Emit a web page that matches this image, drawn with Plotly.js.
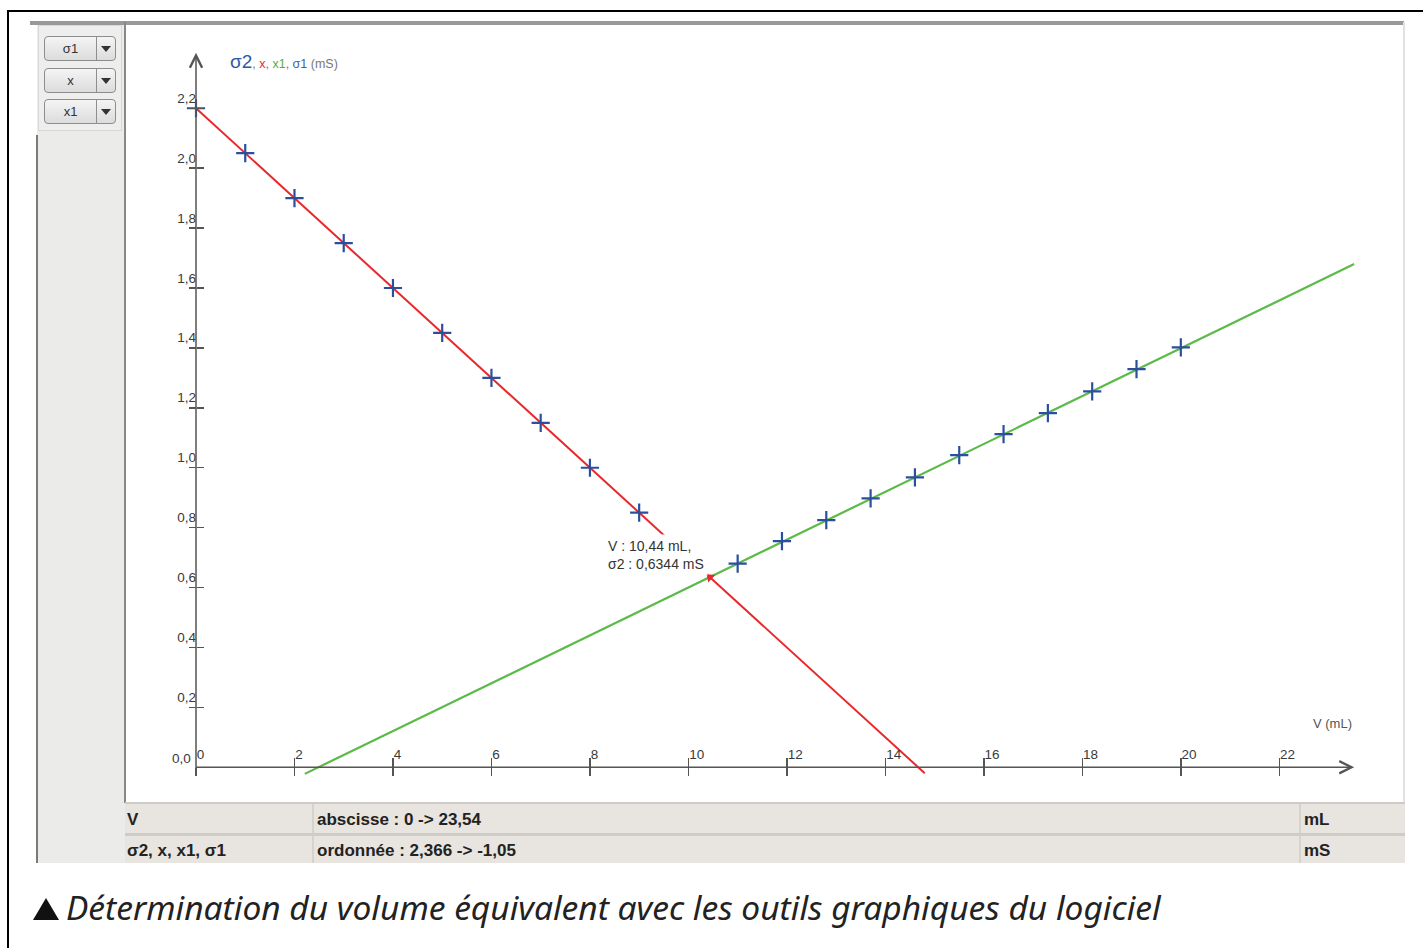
<!DOCTYPE html>
<html>
<head>
<meta charset="utf-8">
<script src="https://cdn.plot.ly/plotly-3.0.1.min.js"></script>
<style>
  html, body { margin:0; padding:0; background:#fff; }
  body { width:1423px; height:948px; position:relative; overflow:hidden; font-family:"Liberation Sans", Arial, sans-serif; }
  .abs { position:absolute; }
  .btn { position:absolute; left:44px; width:72px; height:25px; border:1px solid #8e8e8e; border-radius:4px;
         background:linear-gradient(#f4f4f4,#dcdcdc); box-sizing:border-box; }
  .btn .lab { position:absolute; left:0; top:0; width:51px; height:23px; line-height:23px; text-align:center;
              font-size:13px; color:#333; border-right:1px solid #8e8e8e; }
  .btn .dd { position:absolute; left:56px; top:9px; width:0; height:0; border-left:5px solid transparent;
             border-right:5px solid transparent; border-top:6px solid #333; }
  .row { position:absolute; left:125px; width:1280px; background:#e8e4e0; font-weight:bold; font-size:17px; color:#222; }
  .row div { position:absolute; top:0; }
  .row .c2, .row .c3 { border-left:2px solid #d6d2ce; padding-left:3px; }
</style>
</head>
<body>
<!-- outer frame -->
<div class="abs" style="left:7px;top:10px;width:1416px;height:2px;background:#000"></div>
<div class="abs" style="left:7px;top:10px;width:2px;height:938px;background:#000"></div>

<!-- software window chrome -->
<div class="abs" style="left:37px;top:22px;width:89px;height:841px;background:#ebebea;"></div>
<div class="abs" style="left:36px;top:135px;width:2px;height:728px;background:#7a7a7a;"></div>
<div class="abs" style="left:38px;top:25px;width:84px;height:106px;border:1px solid #d8d8d8;background:#eeeeed;box-sizing:border-box;"></div>
<div class="abs" style="left:30px;top:21px;width:1374px;height:4px;background:#999;"></div>
<div class="abs" style="left:124px;top:22px;width:2px;height:781px;background:#888;"></div>
<div class="abs" style="left:1403px;top:22px;width:2px;height:781px;background:#e2e2e2;"></div>

<div class="btn" style="top:36px"><div class="lab">σ1</div><div class="dd"></div></div>
<div class="btn" style="top:68px"><div class="lab">x</div><div class="dd"></div></div>
<div class="btn" style="top:99px"><div class="lab">x1</div><div class="dd"></div></div>

<div id="plot" class="abs" style="left:126px;top:25px;width:1277px;height:777px;"></div>

<!-- bottom table -->
<div class="abs" style="left:125px;top:802px;width:1280px;height:61px;background:#cfcbc7;"></div>
<div class="row" style="top:804px;height:29px;line-height:31px;">
  <div style="left:2px">V</div>
  <div class="c2" style="left:187px;width:980px;height:29px;">abscisse : 0 -&gt; 23,54</div>
  <div class="c3" style="left:1174px;width:100px;height:29px;">mL</div>
</div>
<div class="row" style="top:836px;height:27px;line-height:29px;">
  <div style="left:2px">σ2, x, x1, σ1</div>
  <div class="c2" style="left:187px;width:980px;height:27px;">ordonnée : 2,366 -&gt; -1,05</div>
  <div class="c3" style="left:1174px;width:100px;height:27px;">mS</div>
</div>

<!-- caption -->
<div class="abs" style="left:33px;top:898px;width:0;height:0;border-left:13px solid transparent;border-right:13px solid transparent;border-bottom:22px solid #111;"></div>
<div class="abs" style="left:66px;top:884px;font-family:'Noto Sans','Open Sans',sans-serif;font-size:33.5px;color:#222;white-space:nowrap;font-style:italic;">Détermination du volume équivalent avec les outils graphiques du logiciel</div>

<script>
// ---- data ----
const sigma2V = [0, 1, 2, 3, 4, 5, 6, 7, 8, 9];
const sigma2  = [2.20, 2.05, 1.90, 1.75, 1.60, 1.45, 1.30, 1.15, 1.00, 0.85];
const sigma1V = [11.0, 11.9, 12.8, 13.7, 14.6, 15.5, 16.4, 17.3, 18.2, 19.1, 20.0];
const sigma1  = [0.680, 0.755, 0.825, 0.898, 0.968, 1.042, 1.112, 1.182, 1.255, 1.329, 1.402];
// modelled lines (end points)
const modelXV  = [0, 14.8];
const modelX   = [2.20, -0.02];
const modelX1V = [2.21, 23.52];
const modelX1  = [-0.022, 1.68];
// intersection read by the software
const eqV = 10.44;
const eqS = 0.6344;
// axes
const xTicks = [0, 2, 4, 6, 8, 10, 12, 14, 16, 18, 20, 22];
const yTicks = [0, 0.2, 0.4, 0.6, 0.8, 1.0, 1.2, 1.4, 1.6, 1.8, 2.0, 2.2];
const xRange = [-1.4216, 24.512];
const yRange = [-0.1159, 2.478];
const xAxisEnd = 23.52;
const yAxisTop = 2.385;
const yAxisBottom = -0.027;

const RED = '#e8282b', GREEN = '#5cba48', BLUE = '#2b4f9e', AX = '#555';
const FONT = 'Liberation Sans, Arial, sans-serif';
const tickFont = {family:FONT, size:13.5, color:'#3a3a3a'};

const traces = [
  {x: modelXV, y: modelX, mode:'lines', line:{color:RED, width:2}, hoverinfo:'skip'},
  {x: modelX1V, y: modelX1, mode:'lines', line:{color:GREEN, width:2.2}, hoverinfo:'skip'},
  {x: sigma2V, y: sigma2, mode:'markers', marker:{symbol:'cross-thin', size:13, line:{color:BLUE, width:2.2}}},
  {x: sigma1V, y: sigma1, mode:'markers', marker:{symbol:'cross-thin', size:13, line:{color:BLUE, width:2.2}}},
  {x: [eqV], y: [eqS], mode:'markers', marker:{symbol:'triangle-up', size:9, color:RED, angle:-47}},
  {x: [], y: [], xaxis:'x2', yaxis:'y2', mode:'markers'}
];

const pos = (v, r) => (v - r[0]) / (r[1] - r[0]);
const fmtY = v => v.toFixed(1).replace('.', ',');

const layout = {
  width:1277, height:777,
  margin:{l:0, r:0, t:0, b:0},
  paper_bgcolor:'#fff', plot_bgcolor:'#fff',
  showlegend:false,
  separators:', ',
  xaxis:{range:xRange, anchor:'free', position:pos(0, yRange), tickvals:xTicks, tickformat:'d',
         ticks:'outside', ticklen:8, tickwidth:1.5, tickcolor:AX, ticklabelposition:'inside right',
         tickfont:tickFont, showgrid:false, zeroline:false, showline:false, fixedrange:true},
  xaxis2:{range:xRange, overlaying:'x', anchor:'free', position:pos(0, yRange), side:'bottom',
          tickvals:xTicks.slice(1), ticks:'inside', ticklen:9, tickwidth:1.5, tickcolor:AX,
          showticklabels:false, showgrid:false, zeroline:false, showline:false},
  yaxis:{range:yRange, anchor:'free', position:pos(0, xRange), tickvals:yTicks, tickformat:'.1f',
         ticks:'inside', ticklen:7, tickwidth:1.5, tickcolor:AX, ticklabelposition:'outside top',
         tickfont:tickFont, showgrid:false, zeroline:false, showline:false, fixedrange:true},
  yaxis2:{range:yRange, overlaying:'y', anchor:'free', position:pos(0, xRange), side:'left',
          tickvals:yTicks.slice(1), ticks:'outside', ticklen:7, tickwidth:1.5, tickcolor:AX,
          showticklabels:false, showgrid:false, zeroline:false, showline:false},
  annotations:[
    // y axis with arrow
    {x:0, y:yAxisTop, ax:0, ay:yAxisBottom, xref:'x', yref:'y', axref:'x', ayref:'y', text:'',
     showarrow:true, arrowhead:5, arrowsize:1.6, arrowwidth:1.5, arrowcolor:AX},
    // x axis with arrow
    {x:xAxisEnd, y:0, ax:-0.03, ay:0, xref:'x', yref:'y', axref:'x', ayref:'y', text:'',
     showarrow:true, arrowhead:5, arrowsize:1.6, arrowwidth:1.5, arrowcolor:AX},
    // origin label of the y axis (hidden by plotly at the crossing)
    {x:0, y:yTicks[0], xref:'x', yref:'y', xanchor:'right', yanchor:'bottom', showarrow:false,
     xshift:-3, yshift:-1, text:fmtY(yTicks[0]), font:tickFont},
    // series title
    {x:0.64, y:2.355, xref:'x', yref:'y', xanchor:'left', yanchor:'middle', showarrow:false,
     font:{family:FONT, size:12.5, color:'#777'},
     text:'<span style="font-size:19px;color:#2d5aa6">σ2</span>, <span style="color:#e8282b">x</span>, <span style="color:#4fb03c">x1</span>, <span style="color:#3f62a8">σ1</span> (mS)'},
    // x axis title
    {x:xAxisEnd, y:0.145, xref:'x', yref:'y', xanchor:'right', yanchor:'middle', showarrow:false,
     text:'V (mL)', font:{family:FONT, size:13, color:'#555'}},
    // intersection label
    {x:eqV, y:eqS, xref:'x', yref:'y', xanchor:'right', yanchor:'bottom', showarrow:false,
     xshift:-2, yshift:1, align:'left', bgcolor:'#fff', borderpad:3,
     text:'V : ' + eqV.toFixed(2).replace('.', ',') + ' mL,<br>σ2 : ' + eqS.toFixed(4).replace('.', ',') + ' mS',
     font:{family:FONT, size:14, color:'#333'}}
  ]
};

Plotly.newPlot('plot', traces, layout, {displayModeBar:false, staticPlot:true});
</script>
</body>
</html>
